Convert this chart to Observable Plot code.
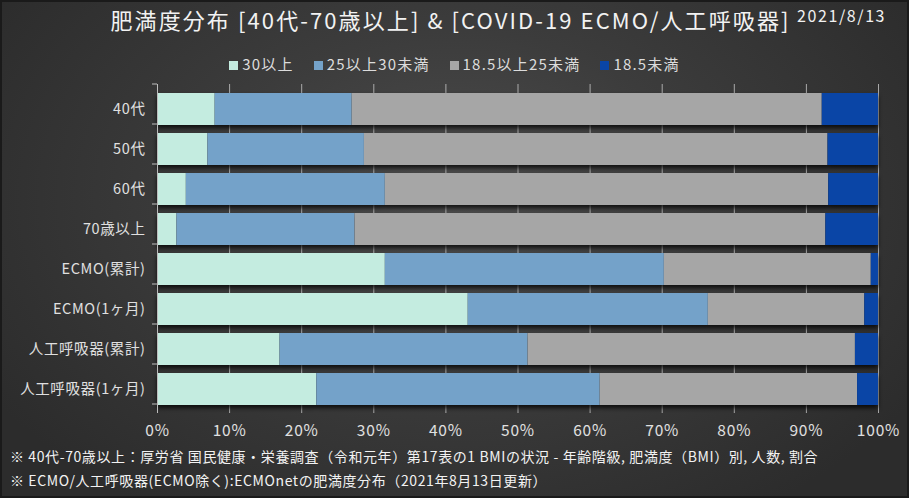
<!DOCTYPE html>
<html>
<head>
<meta charset="utf-8">
<script src="https://cdn.jsdelivr.net/npm/d3@7"></script>
<script src="https://cdn.jsdelivr.net/npm/@observablehq/plot@0.6"></script>
<style>
  html, body { margin: 0; padding: 0; background: #2b2b2b; }
  #frame {
    position: relative; width: 909px; height: 498px; overflow: hidden;
    background: radial-gradient(ellipse 60% 75% at 50% 40%, #4d4d4d 0%, #3c3c3c 45%, #2c2c2c 100%);
    font-family: "Noto Sans CJK JP", "Noto Sans", sans-serif;
    color: #e8e8e8;
    box-shadow: inset 0 0 0 2px #1a1a1a;
  }
  #title { position: absolute; left: -4px; width: 909px; top: 3px; text-align: center; font-size: 22px; letter-spacing: 2.1px; color: #f2f2f2; white-space: nowrap; }
  #date { position: absolute; left: 797px; top: 3px; font-size: 16px; letter-spacing: 1.6px; color: #f2f2f2; }
  #legend { position: absolute; left: 0; width: 909px; top: 53px; text-align: center; font-size: 15px; letter-spacing: 1.2px; color: #dcdcdc; white-space: nowrap; }
  #legend span.item { margin: 0 10px; }
  #legend span.sw { display: inline-block; width: 9px; height: 9px; margin-right: 4px; vertical-align: 0px; }
  #chart { position: absolute; left: 0; top: 70px; }
  .note { position: absolute; left: 10px; font-size: 14px; letter-spacing: 0.6px; color: #f2f2f2; white-space: nowrap; }
</style>
</head>
<body>
<div id="frame">
  <div id="title"></div>
  <div id="date"></div>
  <div id="legend"></div>
  <div id="chart"></div>
  <div class="note" id="note1" style="top:446px"></div>
  <div class="note" id="note2" style="top:470px"></div>
</div>
<script>
const titleText = "肥満度分布 [40代-70歳以上] & [COVID-19 ECMO/人工呼吸器]";
const dateText = "2021/8/13";
const notes = [
  "※ 40代-70歳以上：厚労省 国民健康・栄養調査（令和元年）第17表の1 BMIの状況 - 年齢階級, 肥満度（BMI）別, 人数, 割合",
  "※ ECMO/人工呼吸器(ECMO除く):ECMOnetの肥満度分布（2021年8月13日更新）"
];
const groups = ["40代", "50代", "60代", "70歳以上", "ECMO(累計)", "ECMO(1ヶ月)", "人工呼吸器(累計)", "人工呼吸器(1ヶ月)"];
const categories = ["30以上", "25以上30未満", "18.5以上25未満", "18.5未満"];
const colors = ["#c4ece0", "#74a2c9", "#a6a6a6", "#0a45a6"];
const s30 = [8.0, 7.0, 4.0, 2.7, 31.6, 43.1, 17.0, 22.1];
const s25 = [19.0, 21.7, 27.6, 24.7, 38.7, 33.3, 34.4, 39.3];
const s185 = [65.2, 64.3, 61.5, 65.3, 28.7, 21.7, 45.4, 35.7];
const sLow = [7.8, 7.0, 6.9, 7.3, 1.0, 1.9, 3.2, 2.9];
const xTicks = [0, 10, 20, 30, 40, 50, 60, 70, 80, 90, 100];

const series = [s30, s25, s185, sLow];
const data = [];
groups.forEach((g, i) => categories.forEach((c, j) => data.push({group: g, cat: c, value: series[j][i]})));

document.getElementById("title").textContent = titleText;
document.getElementById("date").textContent = dateText;
document.getElementById("note1").textContent = notes[0];
document.getElementById("note2").textContent = notes[1];
const leg = document.getElementById("legend");
categories.forEach((c, j) => {
  const it = document.createElement("span"); it.className = "item";
  const sw = document.createElement("span"); sw.className = "sw"; sw.style.background = colors[j];
  it.appendChild(sw); it.appendChild(document.createTextNode(c));
  leg.appendChild(it);
});

// band boundary ticks on the left axis
function bandTicks(index, scales, values, dimensions) {
  const y = scales.y;
  const step = y.step ? y.step() : (dimensions.height - dimensions.marginTop - dimensions.marginBottom) / groups.length;
  const g = d3.create("svg:g");
  const x0 = dimensions.marginLeft;
  const top = dimensions.marginTop;
  for (let k = 0; k <= groups.length; k++) {
    const yy = top + k * step;
    g.append("line").attr("x1", x0 - 5).attr("x2", x0).attr("y1", yy).attr("y2", yy)
      .attr("stroke", "#bdbdbd").attr("stroke-width", 1);
  }
  return g.node();
}

const plot = Plot.plot({
  width: 909,
  height: 375,
  marginLeft: 157,
  marginRight: 31,
  marginTop: 14,
  marginBottom: 32,
  style: {background: "transparent", color: "#e0e0e0", fontFamily: "'Noto Sans CJK JP', sans-serif", overflow: "visible"},
  x: {domain: [0, 100], ticks: xTicks, tickFormat: d => d + "%", tickSize: 0, tickPadding: 11, label: null},
  y: {domain: groups, padding: 0.2, tickSize: 0, tickPadding: 12, label: null},
  color: {domain: categories, range: colors},
  marks: [
    Plot.gridX(xTicks, {stroke: "#d0d0d0", strokeOpacity: 0.75, strokeWidth: 1}),
    Plot.barX(data, Plot.stackX({x: "value", y: "group", fill: "cat", order: categories})),
    Plot.ruleX([0], {stroke: "#bdbdbd", strokeWidth: 1}),
    bandTicks
  ]
});
document.getElementById("chart").appendChild(plot);
const svg = d3.select(plot);
svg.selectAll("g[aria-label='bar']").style("filter", "drop-shadow(0px 3px 2px rgba(0,0,0,0.75))");
svg.selectAll("g[aria-label='x-axis tick label'], g[aria-label='x-axis tick label'] text").style("font-size", "15.5px").style("letter-spacing", "0.8px").attr("fill", "#e0e0e0");
svg.selectAll("g[aria-label='y-axis tick label'], g[aria-label='y-axis tick label'] text").style("font-size", "14.5px").style("letter-spacing", "0.6px").attr("fill", "#e0e0e0");
</script>
</body>
</html>
